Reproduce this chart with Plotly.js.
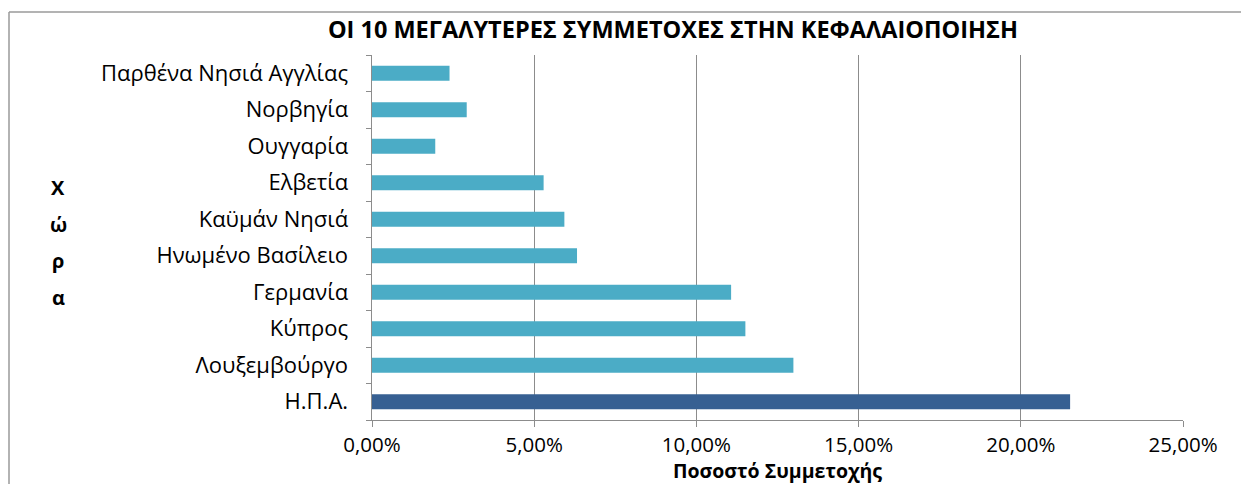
<!DOCTYPE html>
<html>
<head>
<meta charset="utf-8">
<script src="https://cdn.plot.ly/plotly-3.0.1.min.js"></script>
<style>
html,body{margin:0;padding:0;background:#fff;}
#chart{width:1241px;height:484px;}
</style>
</head>
<body>
<div id="chart"></div>
<script>
// Categories listed bottom to top
const countries = [
  "Η.Π.Α.",
  "Λουξεμβούργο",
  "Κύπρος",
  "Γερμανία",
  "Ηνωμένο Βασίλειο",
  "Καϋμάν Νησιά",
  "Ελβετία",
  "Ουγγαρία",
  "Νορβηγία",
  "Παρθένα Νησιά Αγγλίας"
];
const shares = [0.2152, 0.1299, 0.1151, 0.1107, 0.0632, 0.0593, 0.0529, 0.0195, 0.0292, 0.0239];
const barColors = ["#376092", "#4BACC6", "#4BACC6", "#4BACC6", "#4BACC6", "#4BACC6", "#4BACC6", "#4BACC6", "#4BACC6", "#4BACC6"];
const xTicks = [0, 0.05, 0.10, 0.15, 0.20, 0.25];

const chartTitle = "ΟΙ 10 ΜΕΓΑΛΥΤΕΡΕΣ ΣΥΜΜΕΤΟΧΕΣ ΣΤΗΝ ΚΕΦΑΛΑΙΟΠΟΙΗΣΗ";
const xTitle = "Ποσοστό Συμμετοχής";
const yTitleLetters = ["Χ", "ώ", "ρ", "α"];

const FONT = "'Open Sans', 'Noto Sans', sans-serif";

const trace = {
  type: "bar",
  orientation: "h",
  x: shares,
  y: countries,
  marker: {color: barColors},
  hoverinfo: "x+y"
};

const letterAnnotations = yTitleLetters.map((ch, i) => ({
  text: "<b>" + ch + "</b>",
  xref: "paper", yref: "paper",
  x: -0.387, y: 0.636 - i * 0.0997,
  xanchor: "center", yanchor: "middle",
  showarrow: false,
  font: {family: FONT, size: 20, color: "#000"}
}));

const layout = {
  width: 1241,
  height: 484,
  margin: {l: 372, r: 58, t: 55, b: 64, pad: 0},
  paper_bgcolor: "#ffffff",
  plot_bgcolor: "#ffffff",
  separators: ",.",
  showlegend: false,
  bargap: 0.59,
  font: {family: FONT, color: "#000000", size: 21},
  title: {
    text: "<b>" + chartTitle + "</b>",
    font: {family: FONT, size: 23.5, color: "#000000"},
    x: 0.371, xref: "paper", xanchor: "center",
    y: 0.938, yref: "container", yanchor: "middle"
  },
  xaxis: {
    range: [0, 0.25],
    tickvals: xTicks,
    tickformat: ".2%",
    showgrid: true,
    gridcolor: "#8c8c8c",
    gridwidth: 1,
    zeroline: false,
    showline: true,
    linecolor: "#8c8c8c",
    linewidth: 1,
    ticks: "outside",
    ticklen: 6,
    tickcolor: "#8c8c8c",
    tickfont: {family: FONT, size: 20.5, color: "#000"},
    title: {text: "<b>" + xTitle + "</b>", font: {family: FONT, size: 19.5, color: "#000"}, standoff: 2},
    fixedrange: true
  },
  yaxis: {
    type: "category",
    categoryorder: "array",
    categoryarray: countries,
    showgrid: false,
    zeroline: false,
    showline: true,
    linecolor: "#8c8c8c",
    linewidth: 1.5,
    ticks: "outside",
    tickson: "boundaries",
    ticklen: 5,
    tickcolor: "#8c8c8c",
    ticklabelstandoff: 18,
    tickfont: {family: FONT, size: 22, color: "#000"},
    fixedrange: true
  },
  annotations: letterAnnotations,
  shapes: [
    {type: "line", xref: "paper", yref: "paper", x0: -0.4476, x1: 1.2, y0: 1.1178, y1: 1.1178,
     line: {color: "#9a9a9a", width: 1.5}},
    {type: "line", xref: "paper", yref: "paper", x0: -0.4476, x1: -0.4476, y0: 1.1178, y1: -0.3,
     line: {color: "#9a9a9a", width: 1.5}}
  ]
};

Plotly.newPlot("chart", [trace], layout, {displayModeBar: false, staticPlot: true});
</script>
</body>
</html>
